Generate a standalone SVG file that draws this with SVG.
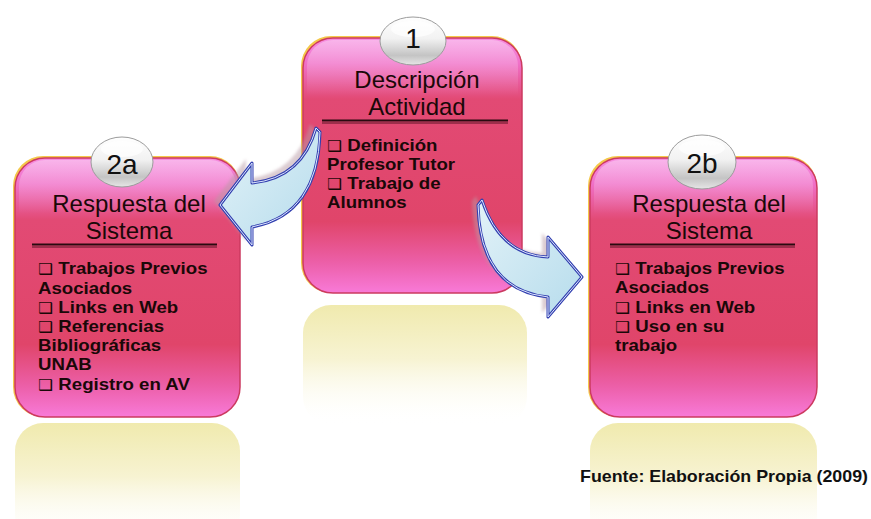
<svg xmlns="http://www.w3.org/2000/svg" width="871" height="519" viewBox="0 0 871 519">
  <defs>
    <linearGradient id="boxFill" x1="0" y1="0" x2="0" y2="1">
      <stop offset="0" stop-color="#f68ee2"/>
      <stop offset="0.1" stop-color="#f070c8"/>
      <stop offset="0.24" stop-color="#e24a74"/>
      <stop offset="0.72" stop-color="#e0456a"/>
      <stop offset="0.88" stop-color="#ec5fa8"/>
      <stop offset="1" stop-color="#f87ad8"/>
    </linearGradient>
    <linearGradient id="gloss" x1="0" y1="0" x2="0" y2="1">
      <stop offset="0" stop-color="#ffffff" stop-opacity="0.35"/>
      <stop offset="1" stop-color="#ffffff" stop-opacity="0"/>
    </linearGradient>
    <linearGradient id="reflect" x1="0" y1="0" x2="0" y2="1">
      <stop offset="0" stop-color="#f0eaae"/>
      <stop offset="0.45" stop-color="#f7f3d2"/>
      <stop offset="1" stop-color="#ffffff" stop-opacity="0"/>
    </linearGradient>
    <linearGradient id="badge" x1="0" y1="0" x2="0" y2="1">
      <stop offset="0" stop-color="#ffffff"/>
      <stop offset="0.45" stop-color="#f2f2f2"/>
      <stop offset="0.8" stop-color="#c4c4c4"/>
      <stop offset="1" stop-color="#e6e6e6"/>
    </linearGradient>
    <linearGradient id="arrowFill" x1="0" y1="0" x2="1" y2="1">
      <stop offset="0" stop-color="#e2f2f8"/>
      <stop offset="1" stop-color="#b6dcec"/>
    </linearGradient>
    <filter id="soft" x="-20%" y="-20%" width="140%" height="140%">
      <feGaussianBlur stdDeviation="1.5"/>
    </filter>
    <style>
      .glow { fill: #f4c84a; }
      .box { fill: url(#boxFill); stroke: #cc3a60; stroke-width: 1.5; }
      .gloss { fill: url(#gloss); }
      .refl { fill: url(#reflect); }
      .badge { fill: url(#badge); stroke: #9c9c9c; stroke-width: 1; }
      .num { font-family: "Liberation Sans", Arial, sans-serif; font-size: 28px; fill: #111; text-anchor: middle; }
      .title { font-family: "Liberation Sans", Arial, sans-serif; font-size: 24px; fill: #1a0808; text-anchor: middle; }
      .body { font-family: "Liberation Sans", "DejaVu Sans", Arial, sans-serif; font-size: 16.5px; font-weight: bold; fill: #1a0808; }
      .cb { font-family: "DejaVu Sans", sans-serif; font-size: 15px; font-weight: normal; }
      .rule1 { stroke: #2a0a10; stroke-width: 2; }
      .rule2 { stroke: #5a1525; stroke-width: 1; }
      .arrow { fill: url(#arrowFill); stroke: #3340b0; stroke-width: 3; stroke-linejoin: round; }
      .arrowIn { fill: none; stroke: #dfe8ff; stroke-width: 1; stroke-linejoin: round; }
      .arrowShadow { fill: #b89aa4; opacity: 0.5; filter: url(#soft); }
      .source { font-family: "Liberation Sans", Arial, sans-serif; font-size: 17px; font-weight: bold; fill: #111; }
    </style>
  </defs>

  <rect width="871" height="519" fill="#ffffff"/>

  <!-- mirrored floor reflections -->
  <rect class="refl" x="303" y="305" width="224" height="120" rx="28"/>
  <rect class="refl" x="15" y="423" width="225" height="120" rx="28"/>
  <rect class="refl" x="590" y="423" width="227" height="120" rx="28"/>

  <!-- step 1 -->
  <g id="node-1">
    <rect class="glow" x="301" y="36" width="221" height="257" rx="30"/>
    <rect class="box" x="303" y="38" width="219" height="255" rx="30"/>
    <path class="gloss" d="M333,40 H492 A26,26 0 0 1 518,66 V96 H307 V66 A26,26 0 0 1 333,40 Z"/>
    <ellipse class="badge" cx="413" cy="41" rx="33" ry="24"/>
    <ellipse cx="413" cy="29" rx="22" ry="8" fill="#ffffff" opacity="0.7"/>
    <text class="num" x="413" y="48">1</text>
    <text class="title" x="417" y="88">Descripción</text>
    <text class="title" x="417" y="115">Actividad</text>
    <line class="rule1" x1="322" y1="120.5" x2="508" y2="120.5"/>
    <line class="rule2" x1="322" y1="123" x2="508" y2="123"/>
    <text class="body" transform="translate(327,0) scale(1.13,1)">
      <tspan x="0" y="150.7"><tspan class="cb">❑</tspan> Definición</tspan>
      <tspan x="0" y="169.9">Profesor Tutor</tspan>
      <tspan x="0" y="189.1"><tspan class="cb">❑</tspan> Trabajo de</tspan>
      <tspan x="0" y="208.3">Alumnos</tspan>
    </text>
  </g>

  <!-- step 2a -->
  <g id="node-2a">
    <rect class="glow" x="13" y="156" width="227" height="261" rx="30"/>
    <rect class="box" x="15" y="158" width="225" height="259" rx="30"/>
    <path class="gloss" d="M45,160 H210 A26,26 0 0 1 236,186 V214 H19 V186 A26,26 0 0 1 45,160 Z"/>
    <ellipse class="badge" cx="122" cy="162" rx="31" ry="25"/>
    <ellipse cx="122" cy="149" rx="21" ry="8" fill="#ffffff" opacity="0.7"/>
    <text class="num" x="122" y="174">2a</text>
    <text class="title" x="129" y="211.5">Respuesta del</text>
    <text class="title" x="129" y="238.5">Sistema</text>
    <line class="rule1" x1="32" y1="244.5" x2="217" y2="244.5"/>
    <line class="rule2" x1="32" y1="247" x2="217" y2="247"/>
    <text class="body" transform="translate(38,0) scale(1.13,1)">
      <tspan x="0" y="274.5"><tspan class="cb">❑</tspan> Trabajos Previos</tspan>
      <tspan x="0" y="293.7">Asociados</tspan>
      <tspan x="0" y="312.9"><tspan class="cb">❑</tspan> Links en Web</tspan>
      <tspan x="0" y="332.1"><tspan class="cb">❑</tspan> Referencias</tspan>
      <tspan x="0" y="351.3">Bibliográficas</tspan>
      <tspan x="0" y="370.5">UNAB</tspan>
      <tspan x="0" y="389.7"><tspan class="cb">❑</tspan> Registro en AV</tspan>
    </text>
  </g>

  <!-- step 2b -->
  <g id="node-2b">
    <rect class="glow" x="588" y="156" width="229" height="261" rx="30"/>
    <rect class="box" x="590" y="158" width="227" height="259" rx="30"/>
    <path class="gloss" d="M620,160 H787 A26,26 0 0 1 813,186 V214 H594 V186 A26,26 0 0 1 620,160 Z"/>
    <ellipse class="badge" cx="702" cy="162" rx="34" ry="27"/>
    <ellipse cx="702" cy="148" rx="23" ry="8" fill="#ffffff" opacity="0.7"/>
    <text class="num" x="702" y="173">2b</text>
    <text class="title" x="709" y="211.5">Respuesta del</text>
    <text class="title" x="709" y="238.5">Sistema</text>
    <line class="rule1" x1="610" y1="244.5" x2="795" y2="244.5"/>
    <line class="rule2" x1="610" y1="247" x2="795" y2="247"/>
    <text class="body" transform="translate(615,0) scale(1.13,1)">
      <tspan x="0" y="274.3"><tspan class="cb">❑</tspan> Trabajos Previos</tspan>
      <tspan x="0" y="293.5">Asociados</tspan>
      <tspan x="0" y="312.7"><tspan class="cb">❑</tspan> Links en Web</tspan>
      <tspan x="0" y="331.9"><tspan class="cb">❑</tspan> Uso en su</tspan>
      <tspan x="0" y="351.1">trabajo</tspan>
    </text>
  </g>

  <!-- curved arrows -->
  <g id="connectors">
    <g id="arrow-1-2a">
      <path class="arrowShadow" transform="translate(-6,-4)" d="M316,128 Q302,178 252,183 L252,163 L220,205 L252,245 L252,227 Q318,215 320,132 Z"/>
      <path class="arrow" d="M316,128 Q302,178 252,183 L252,163 L220,205 L252,245 L252,227 Q318,215 320,132 Z"/>
      <path class="arrowIn" d="M316,128 Q302,178 252,183 L252,163 L220,205 L252,245 L252,227 Q318,215 320,132 Z"/>
    </g>
    <g id="arrow-1-2b">
      <path class="arrowShadow" transform="translate(-6,-4)" d="M482,200 Q500,255 548,257 L548,237 L582,277 L548,317 L548,297 Q480,290 478,205 Z"/>
      <path class="arrow" d="M482,200 Q500,255 548,257 L548,237 L582,277 L548,317 L548,297 Q480,290 478,205 Z"/>
      <path class="arrowIn" d="M482,200 Q500,255 548,257 L548,237 L582,277 L548,317 L548,297 Q480,290 478,205 Z"/>
    </g>
  </g>

  <text class="source" x="580" y="481.5" textLength="288" lengthAdjust="spacingAndGlyphs">Fuente: Elaboración Propia (2009)</text>
</svg>
